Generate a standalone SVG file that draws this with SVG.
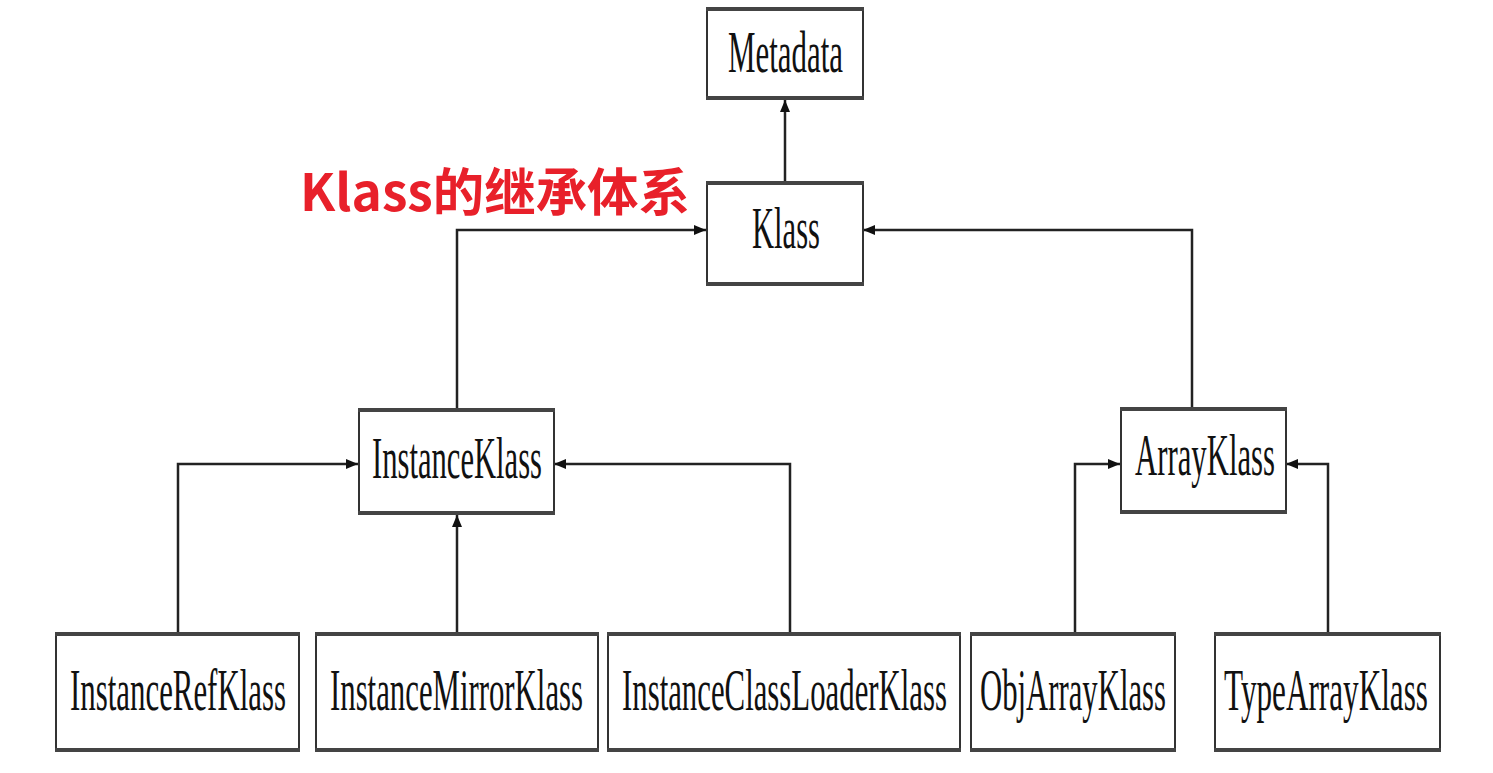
<svg xmlns="http://www.w3.org/2000/svg" width="1493" height="773" viewBox="0 0 1493 773">
<style>
.box{fill:#fff;stroke:#333;stroke-width:2}
.edge{stroke:#444;stroke-width:4}
.lbl{font-family:"Liberation Serif","Times New Roman",serif;font-size:60px;fill:#111}
.ln{fill:none;stroke:#222;stroke-width:2.5}
.title{font-family:"Noto Sans CJK SC","Noto Sans",sans-serif;font-weight:bold;font-size:51px;fill:#e8202a}
</style>
<defs>
<marker id="arr" viewBox="0 0 12 10" refX="12" refY="5" markerWidth="12" markerHeight="10" markerUnits="userSpaceOnUse" orient="auto">
<path d="M0,0 L12,5 L0,10 Z" fill="#111"/>
</marker>
</defs>
<rect width="1493" height="773" fill="#fff"/>
<text class="title" x="300" y="211" textLength="390" lengthAdjust="spacingAndGlyphs">Klass的继承体系</text>
<g id="connectors">
<path class="ln" d="M785,181 V100" marker-end="url(#arr)"/>
<path class="ln" d="M457,408 V230 H706" marker-end="url(#arr)"/>
<path class="ln" d="M1192,407 V230 H863" marker-end="url(#arr)"/>
<path class="ln" d="M178,632 V464 H358" marker-end="url(#arr)"/>
<path class="ln" d="M457,632 V515" marker-end="url(#arr)"/>
<path class="ln" d="M790,632 V464 H554" marker-end="url(#arr)"/>
<path class="ln" d="M1075,632 V464 H1120" marker-end="url(#arr)"/>
<path class="ln" d="M1328,632 V464 H1286" marker-end="url(#arr)"/>
</g>
<g id="metadata">
<rect class="box" x="707" y="8" width="156" height="91"/>
<line class="edge" x1="706" y1="9" x2="864" y2="9"/><line class="edge" x1="706" y1="98" x2="864" y2="98"/>
<text class="lbl" transform="translate(728,72) scale(0.5,1)" textLength="230" lengthAdjust="spacingAndGlyphs">Metadata</text>
</g>
<g id="klass">
<rect class="box" x="707" y="182" width="156" height="103"/>
<line class="edge" x1="706" y1="183" x2="864" y2="183"/><line class="edge" x1="706" y1="284" x2="864" y2="284"/>
<text class="lbl" transform="translate(752,248) scale(0.5,1)" textLength="136" lengthAdjust="spacingAndGlyphs">Klass</text>
</g>
<g id="instanceklass">
<rect class="box" x="359" y="409" width="195" height="105"/>
<line class="edge" x1="358" y1="410" x2="555" y2="410"/><line class="edge" x1="358" y1="513" x2="555" y2="513"/>
<text class="lbl" transform="translate(372,478) scale(0.5,1)" textLength="340" lengthAdjust="spacingAndGlyphs">InstanceKlass</text>
</g>
<g id="arrayklass">
<rect class="box" x="1121" y="408" width="165" height="105"/>
<line class="edge" x1="1120" y1="409" x2="1287" y2="409"/><line class="edge" x1="1120" y1="512" x2="1287" y2="512"/>
<text class="lbl" transform="translate(1135,475) scale(0.5,1)" textLength="280" lengthAdjust="spacingAndGlyphs">ArrayKlass</text>
</g>
<g id="instancerefklass">
<rect class="box" x="56" y="633" width="243" height="118"/>
<line class="edge" x1="55" y1="634" x2="300" y2="634"/><line class="edge" x1="55" y1="750" x2="300" y2="750"/>
<text class="lbl" transform="translate(70,710) scale(0.5,1)" textLength="432" lengthAdjust="spacingAndGlyphs">InstanceRefKlass</text>
</g>
<g id="instancemirrorklass">
<rect class="box" x="316" y="633" width="282" height="118"/>
<line class="edge" x1="315" y1="634" x2="599" y2="634"/><line class="edge" x1="315" y1="750" x2="599" y2="750"/>
<text class="lbl" transform="translate(330,710) scale(0.5,1)" textLength="506" lengthAdjust="spacingAndGlyphs">InstanceMirrorKlass</text>
</g>
<g id="instanceclassloaderklass">
<rect class="box" x="608" y="633" width="352" height="118"/>
<line class="edge" x1="607" y1="634" x2="961" y2="634"/><line class="edge" x1="607" y1="750" x2="961" y2="750"/>
<text class="lbl" transform="translate(622,710) scale(0.5,1)" textLength="650" lengthAdjust="spacingAndGlyphs">InstanceClassLoaderKlass</text>
</g>
<g id="objarrayklass">
<rect class="box" x="971" y="633" width="204" height="118"/>
<line class="edge" x1="970" y1="634" x2="1176" y2="634"/><line class="edge" x1="970" y1="750" x2="1176" y2="750"/>
<text class="lbl" transform="translate(980,710) scale(0.5,1)" textLength="372" lengthAdjust="spacingAndGlyphs">ObjArrayKlass</text>
</g>
<g id="typearrayklass">
<rect class="box" x="1215" y="633" width="225" height="118"/>
<line class="edge" x1="1214" y1="634" x2="1441" y2="634"/><line class="edge" x1="1214" y1="750" x2="1441" y2="750"/>
<text class="lbl" transform="translate(1224,710) scale(0.5,1)" textLength="408" lengthAdjust="spacingAndGlyphs">TypeArrayKlass</text>
</g>
</svg>
